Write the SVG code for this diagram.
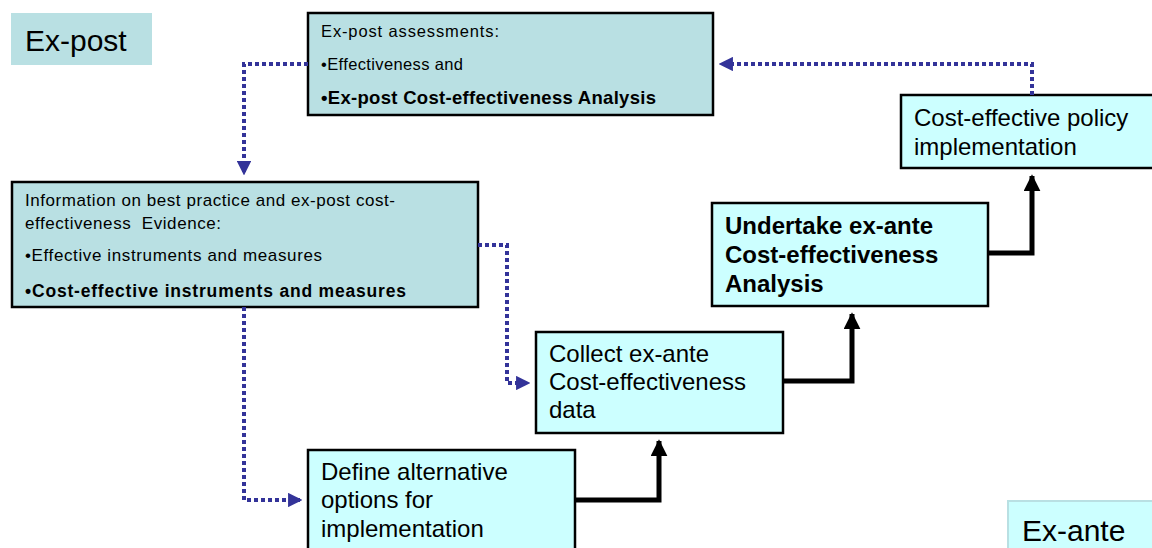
<svg xmlns="http://www.w3.org/2000/svg" width="1152" height="548" viewBox="0 0 1152 548">
<defs>
<marker id="ab" viewBox="0 0 10 10" refX="9" refY="5" markerWidth="3.6" markerHeight="3.6" orient="auto" markerUnits="strokeWidth"><path d="M0,0 L10,5 L0,10 z" fill="#333399"/></marker>
<marker id="ak" viewBox="0 0 10 10" refX="9" refY="5" markerWidth="3.4" markerHeight="3.4" orient="auto" markerUnits="strokeWidth"><path d="M0,0 L10,5 L0,10 z" fill="#000"/></marker>
</defs>
<style>
text{font-family:"Liberation Sans",Arial,sans-serif;fill:#000;white-space:pre}
.post{fill:#b9e0e3;stroke:#000;stroke-width:2.5}
.ante{fill:#ccffff;stroke:#000;stroke-width:2.5}
.dot{fill:none;stroke:#333399;stroke-width:4;stroke-dasharray:4 3}
.blk{fill:none;stroke:#000;stroke-width:5}
.m{font-size:24px}
.b{font-weight:bold}
.big{font-size:30px}
</style>
<rect width="1152" height="548" fill="#fff"/>
<g id="label-expost"><rect x="11" y="13" width="141" height="52" fill="#b9e0e3"/><text class="big" x="25" y="51">Ex-post</text></g>
<g id="label-exante"><rect x="1008" y="501" width="150" height="52" fill="#ccffff" stroke="#b9e0e3" stroke-width="2"/><text class="big" x="1022" y="541">Ex-ante</text></g>
<g id="n-assess"><rect class="post" x="308" y="13" width="405" height="102"/>
<text x="321" y="37" font-size="16.5" textLength="178" lengthAdjust="spacing">Ex-post assessments:</text>
<text x="321" y="70" font-size="16.5" textLength="142" lengthAdjust="spacing">•Effectiveness and</text>
<text class="b" x="321" y="104" font-size="18.5" textLength="335" lengthAdjust="spacing">•Ex-post Cost-effectiveness Analysis</text></g>
<g id="n-info"><rect class="post" x="12" y="182" width="466" height="125"/>
<text x="25" y="206" font-size="17" textLength="370" lengthAdjust="spacing">Information on best practice and ex-post cost-</text>
<text x="25" y="229" font-size="17" textLength="196" lengthAdjust="spacing">effectiveness  Evidence:</text>
<text x="25" y="261" font-size="17" textLength="297" lengthAdjust="spacing">•Effective instruments and measures</text>
<text class="b" x="25" y="297" font-size="17.5" textLength="381" lengthAdjust="spacing">•Cost-effective instruments and measures</text></g>
<g id="n-define"><rect class="ante" x="308" y="450" width="267" height="110"/>
<text class="m" x="321" y="480">Define alternative</text>
<text class="m" x="321" y="508">options for</text>
<text class="m" x="321" y="537">implementation</text></g>
<g id="n-collect"><rect class="ante" x="536" y="332" width="247" height="101"/>
<text class="m" x="549" y="362">Collect ex-ante</text>
<text class="m" x="549" y="390">Cost-effectiveness</text>
<text class="m" x="549" y="418">data</text></g>
<g id="n-undertake"><rect class="ante" x="712" y="203" width="276" height="103" stroke-width="3.5"/>
<text class="m b" x="725" y="234">Undertake ex-ante</text>
<text class="m b" x="725" y="263">Cost-effectiveness</text>
<text class="m b" x="725" y="292">Analysis</text></g>
<g id="n-policy"><rect class="ante" x="901" y="95" width="260" height="73"/>
<text class="m" x="914" y="126">Cost-effective policy</text>
<text class="m" x="914" y="155">implementation</text></g>
<g id="connectors">
<path class="dot" d="M308,64 H244 V174" marker-end="url(#ab)"/>
<path class="dot" d="M478,245 H507 V383 H529" marker-end="url(#ab)"/>
<path class="dot" d="M244,307 V500 H301" marker-end="url(#ab)"/>
<path class="dot" d="M1032,95 V64 H720" marker-end="url(#ab)"/>
<path class="blk" d="M575,500 H659 V441" marker-end="url(#ak)"/>
<path class="blk" d="M783,381 H852 V314" marker-end="url(#ak)"/>
<path class="blk" d="M988,253 H1032 V176" marker-end="url(#ak)"/>
</g>
</svg>
